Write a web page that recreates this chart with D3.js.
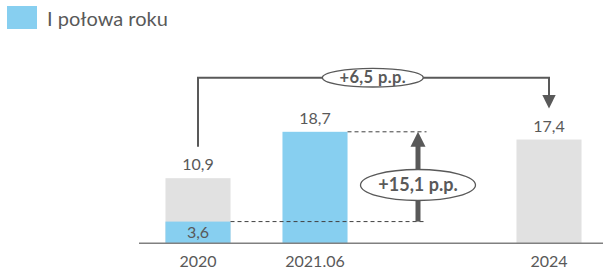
<!DOCTYPE html>
<html><head><meta charset="utf-8">
<script src="https://cdn.jsdelivr.net/npm/d3@7/dist/d3.min.js"></script>
<style>body{margin:0;background:#fff}svg{display:block}text{font-family:Lato,"Open Sans",sans-serif}</style>
</head><body><svg id="c" width="603" height="275"></svg>
<script>
const categories = ["2020", "2021.06", "", "2024"];
const fullYear = [10.9, null, null, 17.4];
const firstHalf = [3.6, 18.7, null, null];
const valueLabels = ["10,9", "18,7", "", "17,4"];
const halfLabels = ["3,6", "", "", ""];
const legendLabel = "I połowa roku";
const diffTop = "+6,5 p.p.";
const diffMid = "+15,1 p.p.";

const svg = d3.select("#c");
const BLUE = "#87cff0", GREY = "#e1e1e1", TXT = "#595959", DARK = "#595959";

const x = d3.scaleBand().domain(categories).range([139.5, 607.5]).paddingInner(0.444).paddingOuter(0.222);
const y = d3.scaleLinear().domain([0, 18.7]).range([243, 131.8]);

// legend
svg.append("rect").attr("x", 7).attr("y", 6).attr("width", 30).attr("height", 23).attr("fill", BLUE);
svg.append("text").attr("x", 47).attr("y", 26).attr("font-size", 20).attr("fill", TXT).text(legendLabel);

// grey bars
categories.forEach((c, i) => {
  if (fullYear[i] != null) {
    svg.append("rect").attr("x", x(c)).attr("width", x.bandwidth())
      .attr("y", y(fullYear[i])).attr("height", y(0) - y(fullYear[i])).attr("fill", GREY);
  }
});
categories.forEach((c, i) => {
  if (firstHalf[i] != null) {
    svg.append("rect").attr("x", x(c)).attr("width", x.bandwidth())
      .attr("y", y(firstHalf[i])).attr("height", y(0) - y(firstHalf[i])).attr("fill", BLUE);
  }
});

// axis
svg.append("line").attr("x1", 139).attr("x2", 603).attr("y1", 243.3).attr("y2", 243.3)
  .attr("stroke", "#808080").attr("stroke-width", 1.6);

// category labels
categories.forEach(c => {
  if (c) svg.append("text").attr("x", x(c) + x.bandwidth() / 2).attr("y", 267)
    .attr("text-anchor", "middle").attr("font-size", 16).attr("fill", TXT).text(c);
});

// value labels
categories.forEach((c, i) => {
  const v = fullYear[i] != null ? fullYear[i] : firstHalf[i];
  if (v != null && valueLabels[i]) {
    svg.append("text").attr("x", x(c) + x.bandwidth() / 2).attr("y", y(v) - 8)
      .attr("text-anchor", "middle").attr("font-size", 16).attr("fill", TXT).text(valueLabels[i]);
  }
  if (halfLabels[i]) {
    svg.append("text").attr("x", x(c) + x.bandwidth() / 2).attr("y", y(firstHalf[i]) + 16.5)
      .attr("text-anchor", "middle").attr("font-size", 16).attr("fill", TXT).text(halfLabels[i]);
  }
});

// dashed guides
const cx = c => x(c) + x.bandwidth() / 2;
const gapX = cx("");
const arrowX = gapX - 14;
svg.append("line").attr("x1", x("2020") + x.bandwidth()).attr("x2", arrowX + 8.5)
  .attr("y1", y(firstHalf[0])).attr("y2", y(firstHalf[0]))
  .attr("stroke", "#404040").attr("stroke-width", 1).attr("stroke-dasharray", "4,3");
svg.append("line").attr("x1", x("2021.06") + x.bandwidth()).attr("x2", arrowX + 8.5)
  .attr("y1", y(firstHalf[1])).attr("y2", y(firstHalf[1]))
  .attr("stroke", "#404040").attr("stroke-width", 1).attr("stroke-dasharray", "4,3");

// vertical thick arrow
svg.append("line").attr("x1", arrowX).attr("x2", arrowX)
  .attr("y1", y(firstHalf[0])).attr("y2", y(firstHalf[1]) + 14)
  .attr("stroke", DARK).attr("stroke-width", 5);
svg.append("path").attr("d", `M${arrowX},${y(firstHalf[1])} L${arrowX - 7.5},${y(firstHalf[1]) + 15} L${arrowX + 7.5},${y(firstHalf[1]) + 15}Z`)
  .attr("fill", DARK);
const midY = 185;
svg.append("ellipse").attr("cx", arrowX).attr("cy", midY).attr("rx", 57.5).attr("ry", 15.5)
  .attr("fill", "#fff").attr("stroke", DARK).attr("stroke-width", 1.3);
svg.append("text").attr("x", arrowX).attr("y", midY + 6.3).attr("text-anchor", "middle")
  .attr("font-size", 18).attr("font-weight", "bold").attr("fill", TXT).text(diffMid);

// top bracket
const topY = 77.7;
const lx = cx("2020"), rx = cx("2024");
svg.append("path").attr("d", `M${lx},${146.7} V${topY} H${rx} V${96}`)
  .attr("fill", "none").attr("stroke", DARK).attr("stroke-width", 2);
svg.append("path").attr("d", `M${rx},108.5 L${rx - 6.7},95 L${rx + 6.7},95Z`).attr("fill", DARK);
const ecx = 372.8;
svg.append("ellipse").attr("cx", ecx).attr("cy", topY).attr("rx", 50.5).attr("ry", 9.3)
  .attr("fill", "#fff").attr("stroke", DARK).attr("stroke-width", 1.3);
svg.append("text").attr("x", ecx).attr("y", topY + 5.5).attr("text-anchor", "middle")
  .attr("font-size", 16.5).attr("letter-spacing", 0.4).attr("font-weight", "bold").attr("fill", TXT).text(diffTop);
</script></body></html>
